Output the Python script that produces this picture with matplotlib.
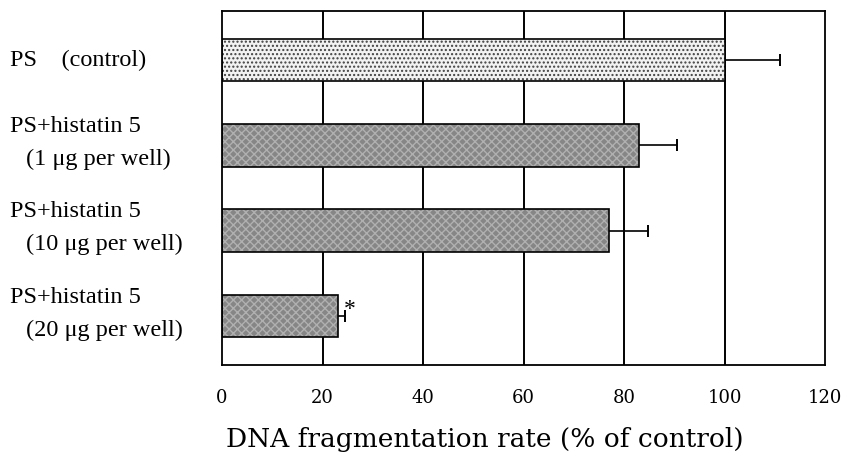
import numpy as np
import matplotlib.pyplot as plt

# --- data ---
labels_top = ['PS    (control)', 'PS+histatin 5', 'PS+histatin 5', 'PS+histatin 5']
labels_sub = ['', '(1 \u03bcg per well)', '(10 \u03bcg per well)', '(20 \u03bcg per well)']
values = [100, 83, 77, 23]
errors = [11, 7.5, 7.8, 1.5]
signif = ['', '', '', '*']
xticks = [0, 20, 40, 60, 80, 100, 120]

fig = plt.figure(figsize=(8.42, 4.67), dpi=100)
ax = fig.add_axes([0.2637, 0.2184, 0.7163, 0.758])

y = np.arange(len(values))

# grid behind everything
for xv in xticks[1:-1]:
    ax.axvline(xv, color='black', lw=1.4, zorder=0)

# error bars sit under the bars so only the right arm shows
ax.errorbar(values, y, xerr=errors, fmt='none', ecolor='black',
            elinewidth=1.2, capsize=4, capthick=1.4, zorder=1)

faces = ['#f2f2f2', '#868686', '#868686', '#868686']
hatches = ['....', 'xxxx', 'xxxx', 'xxxx']
hatch_cols = ['#404040', '#b0b0b0', '#b0b0b0', '#b0b0b0']
for i in range(len(values)):
    ax.barh(y[i], values[i], height=0.5, color=faces[i], hatch=hatches[i],
            edgecolor=hatch_cols[i], linewidth=0, zorder=2)
ax.barh(y, values, height=0.5, color='none', edgecolor='black',
        linewidth=1.2, zorder=3)

for i, s in enumerate(signif):
    if s:
        ax.text(values[i] + errors[i] - 0.2, y[i] - 0.07, s, fontsize=17,
                family='Liberation Serif', va='center', ha='left', zorder=4)

ax.set_xlim(0, 120)
ax.set_ylim(len(values) - 1 + 0.576, -0.576)
ax.set_xticks(xticks)
ax.set_xticklabels([str(t) for t in xticks], family='DejaVu Serif', fontsize=13)
ax.tick_params(axis='x', length=0, pad=17)
ax.set_yticks([])
for sp in ax.spines.values():
    sp.set_linewidth(1.3)

fig.text(485 / 842, 1 - 440 / 467, 'DNA fragmentation rate (% of control)',
         family='DejaVu Serif', fontsize=19, ha='center', va='center')

# two-line category labels on the left
trans = ax.get_yaxis_transform()
for i in range(len(values)):
    if labels_sub[i]:
        ax.text(-0.352, y[i] - 0.22, labels_top[i], transform=trans, fontsize=17.5,
                family='Liberation Serif', ha='left', va='center')
        ax.text(-0.325, y[i] + 0.165, labels_sub[i], transform=trans, fontsize=17.5,
                family='Liberation Serif', ha='left', va='center')
    else:
        ax.text(-0.352, y[i], labels_top[i], transform=trans, fontsize=17.5,
                family='Liberation Serif', ha='left', va='center')

fig.savefig('out.png', dpi=100)
